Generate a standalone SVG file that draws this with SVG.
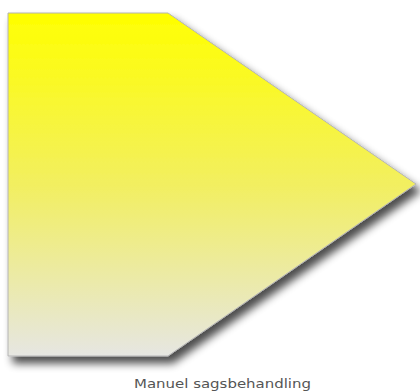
<svg xmlns="http://www.w3.org/2000/svg" width="420" height="392" viewBox="0 0 420 392">
<style>
.lbl{font-family:"DejaVu Sans","Verdana",sans-serif;font-size:13px;fill:#555;}
</style>
<defs>
<linearGradient id="g" x1="0" y1="0" x2="0" y2="1">
<stop offset="0" stop-color="#ffff00"/>
<stop offset="0.5" stop-color="#f2ef60"/>
<stop offset="1" stop-color="#e6e6e2"/>
</linearGradient>
<filter id="sh" x="-10%" y="-10%" width="130%" height="130%">
<feGaussianBlur in="SourceAlpha" stdDeviation="4"/>
<feOffset dx="5" dy="7" result="b"/>
<feComponentTransfer><feFuncA type="linear" slope="0.7"/></feComponentTransfer>
<feMerge><feMergeNode/><feMergeNode in="SourceGraphic"/></feMerge>
</filter>
</defs>
<g id="node1">
<path d="M8,13 L168,13 L416,184 L168,356 L8,356 Z" fill="url(#g)" stroke="#b4b4b4" stroke-width="1" filter="url(#sh)"/>
<text class="lbl" x="222.5" y="388" text-anchor="middle" textLength="177" lengthAdjust="spacingAndGlyphs">Manuel sagsbehandling</text>
</g>
<g id="connectors"/>
</svg>
